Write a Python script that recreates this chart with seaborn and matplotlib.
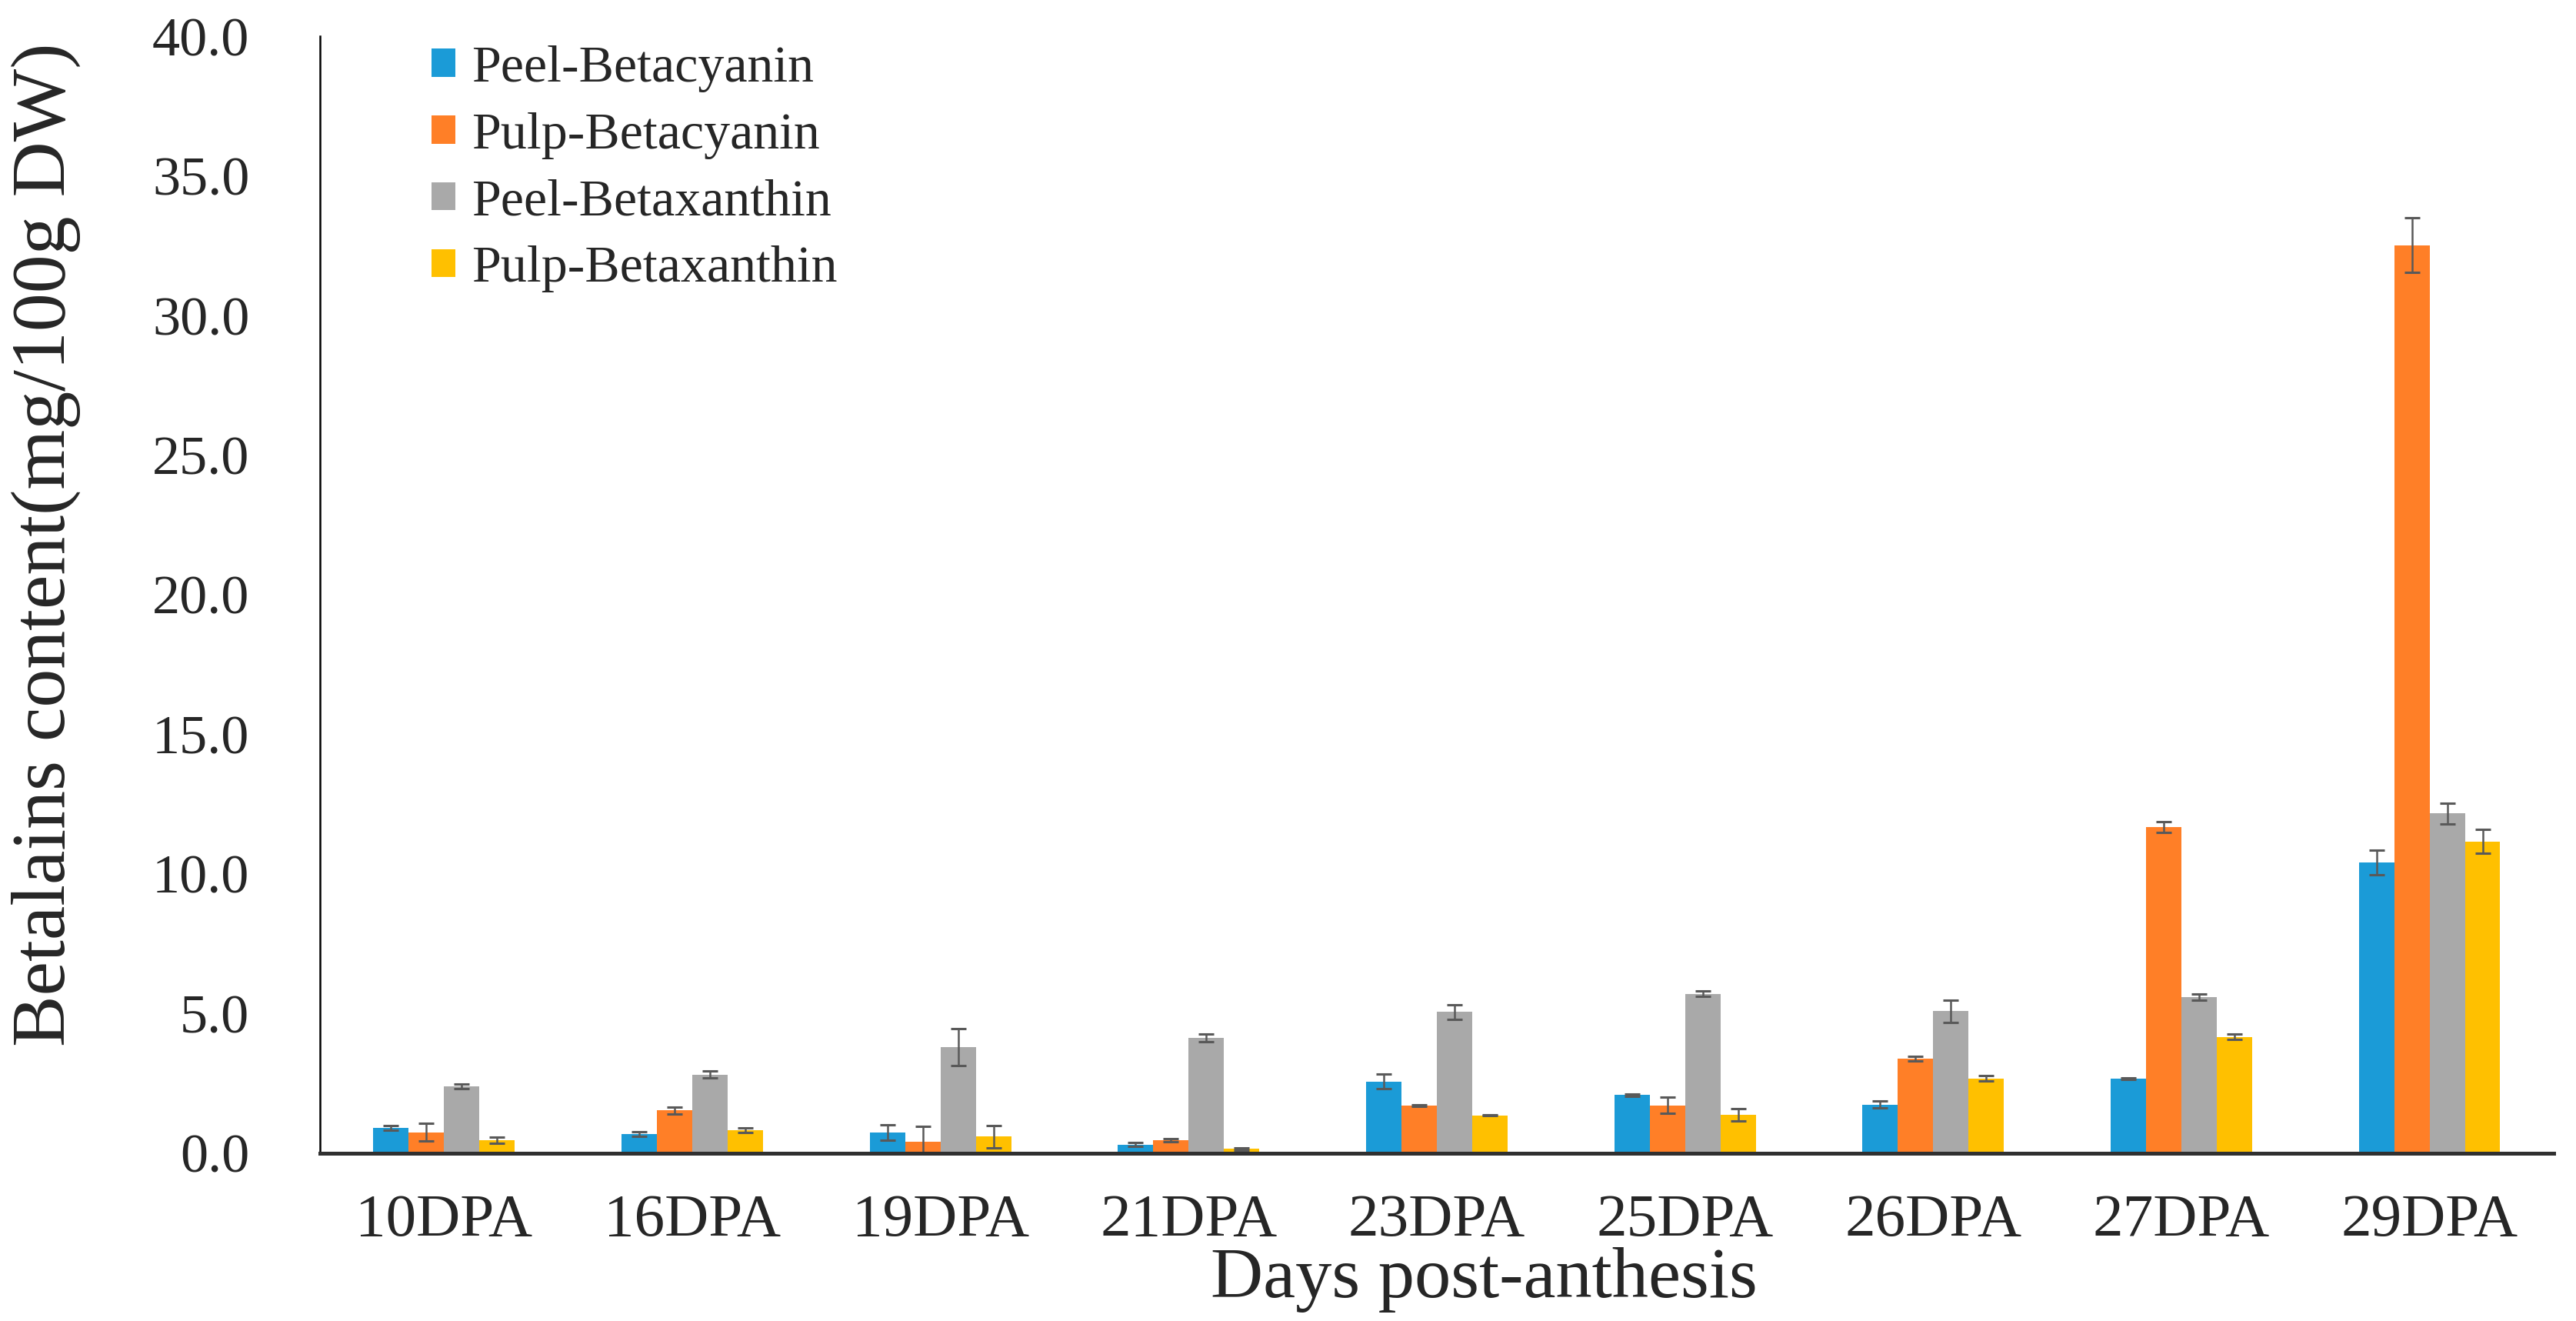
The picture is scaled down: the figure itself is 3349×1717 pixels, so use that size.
import numpy as np
import pandas as pd
import seaborn as sns
import matplotlib.pyplot as plt

sns.set_style('white')
plt.rcParams['font.family'] = ['Liberation Serif', 'DejaVu Serif']

# 采样时间（开花后天数）
stages = ['10DPA', '16DPA', '19DPA', '21DPA', '23DPA', '25DPA', '26DPA', '27DPA', '29DPA']
series = ['Peel-Betacyanin', 'Pulp-Betacyanin', 'Peel-Betaxanthin', 'Pulp-Betaxanthin']
colors = ['#1B9BD7', '#FF7F27', '#A9A9A9', '#FFC000']

# 均值 (mg/100g DW)
peel_bc = [0.91, 0.69, 0.75, 0.31, 2.57, 2.08, 1.74, 2.66, 10.41]
pulp_bc = [0.75, 1.53, 0.40, 0.46, 1.71, 1.71, 3.39, 11.68, 32.52]
peel_bx = [2.39, 2.82, 3.80, 4.13, 5.06, 5.71, 5.09, 5.59, 12.17]
pulp_bx = [0.48, 0.83, 0.60, 0.15, 1.36, 1.38, 2.68, 4.17, 11.16]

# 标准差
peel_bc_sd = [0.08, 0.08, 0.28, 0.07, 0.26, 0.05, 0.12, 0.03, 0.43]
pulp_bc_sd = [0.32, 0.13, 0.55, 0.05, 0.03, 0.29, 0.09, 0.19, 0.97]
peel_bx_sd = [0.08, 0.13, 0.67, 0.15, 0.26, 0.09, 0.40, 0.12, 0.37]
pulp_bx_sd = [0.11, 0.09, 0.40, 0.05, 0.02, 0.23, 0.09, 0.09, 0.43]

means = [peel_bc, pulp_bc, peel_bx, pulp_bx]
sds = [peel_bc_sd, pulp_bc_sd, peel_bx_sd, pulp_bx_sd]

df = pd.DataFrame({
    'stage': np.tile(stages, len(series)),
    'series': np.repeat(series, len(stages)),
    'value': np.concatenate(means),
    'sd': np.concatenate(sds),
})

fig = plt.figure(figsize=(33.49, 17.17), dpi=100)
ax = fig.add_axes([0.1242, 0.1270, 0.8671, 0.8456])

sns.barplot(data=df, x='stage', y='value', hue='series', order=stages,
            hue_order=series, palette=colors, width=0.57, errorbar=None,
            linewidth=0, saturation=1, ax=ax)

# 误差线
for cont, sd in zip(ax.containers, sds):
    xs = [b.get_x() + b.get_width() / 2 for b in cont]
    ys = [b.get_height() for b in cont]
    ax.errorbar(xs, ys, yerr=sd, fmt='none', ecolor='#595959',
                elinewidth=1.8, capsize=7, capthick=2.2, zorder=5)

ax.set_xlim(-0.5, len(stages) - 0.5)
ax.set_ylim(0, 40)
ax.set_yticks(np.arange(0, 41, 5))
ax.set_yticklabels([f'{v:.1f}' for v in np.arange(0, 41, 5)], fontsize=52)
ax.set_xticks(range(len(stages)))
ax.set_xticklabels(stages, fontsize=57)
ax.tick_params(axis='y', direction='in', length=17, width=1.6, pad=66, color='black')
ax.tick_params(axis='x', length=0, pad=38)

for s in ['top', 'right']:
    ax.spines[s].set_visible(False)
ax.spines['left'].set_color('black')
ax.spines['left'].set_linewidth(1.8)
ax.spines['bottom'].set_color('#303030')
ax.spines['bottom'].set_linewidth(3.6)
ax.spines['bottom'].set_zorder(6)

ax.set_xlabel('Days post-anthesis', fontsize=68)
ax.set_ylabel('Betalains content(mg/100g DW)', fontsize=72)
ax.xaxis.set_label_coords(0.521, -0.084)
ax.yaxis.set_label_coords(-0.107, 0.545)

leg = ax.legend(loc='upper left', bbox_to_anchor=(0.05, 0.992), frameon=False,
                fontsize=49, handlelength=0.45, handleheight=0.45,
                handletextpad=0.32, labelspacing=0.38, borderpad=0,
                borderaxespad=0)

fig.savefig('out.png', dpi=100, facecolor='white')
